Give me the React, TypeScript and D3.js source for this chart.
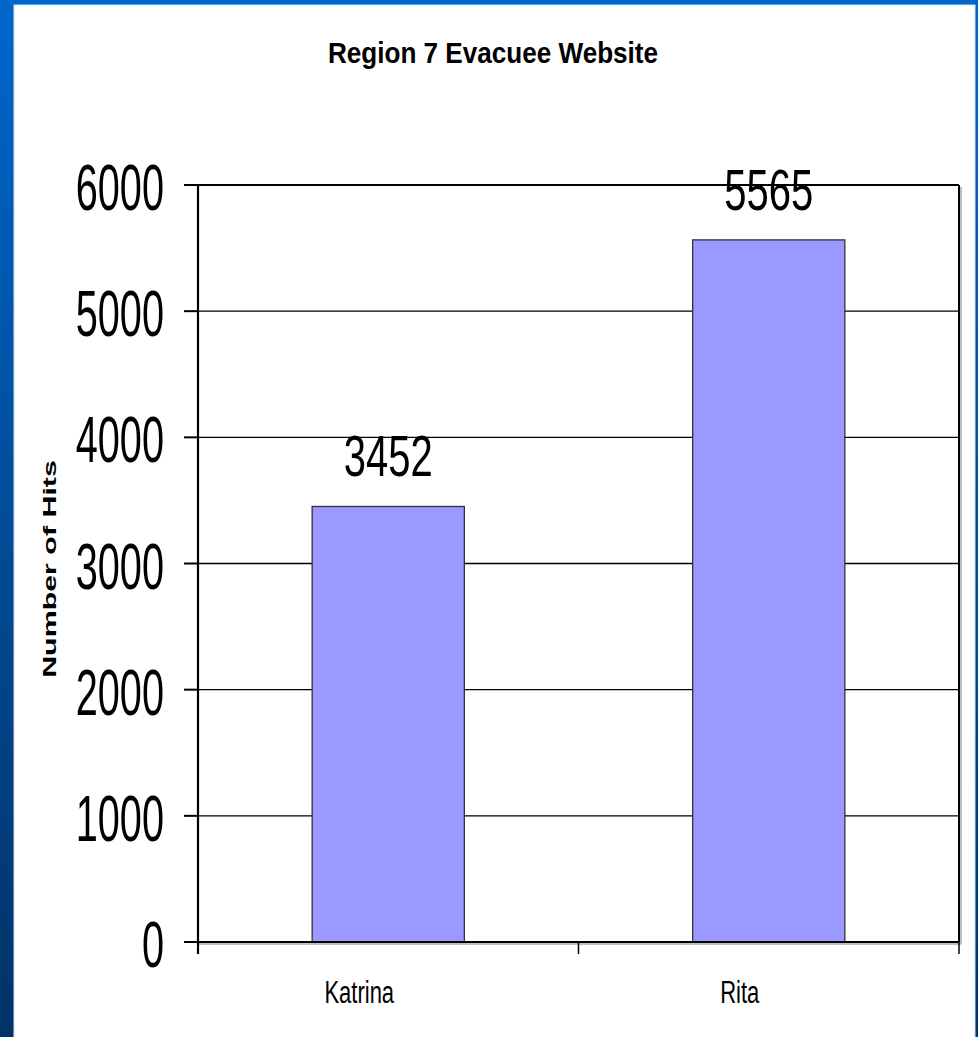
import { useEffect, useRef } from 'react';
import * as d3 from 'd3';

const categories = ['Katrina', 'Rita'];
const hits = [3452, 5565];
const yTicks = [0, 1000, 2000, 3000, 4000, 5000, 6000];
const title = 'Region 7 Evacuee Website';
const yTitle = 'Number of Hits';

const FONT = '"Liberation Sans", Arial, sans-serif';

export default function App() {
  const svgRef = useRef<SVGSVGElement>(null);

  useEffect(() => {
    if (!svgRef.current) return;
    const width = 978;
    const height = 1037;
    const plot = { left: 198, right: 959, top: 185, bottom: 942 };

    const svg = d3.select(svgRef.current);
    svg.selectAll('*').remove();
    svg.attr('width', width).attr('height', height);

    // slide background: blue gradient with a white panel
    const grad = svg.append('defs').append('linearGradient')
      .attr('id', 'bg').attr('x1', 0).attr('y1', 0).attr('x2', 0).attr('y2', 1);
    grad.append('stop').attr('offset', '0%').attr('stop-color', '#0066cc');
    grad.append('stop').attr('offset', '100%').attr('stop-color', '#003366');
    svg.append('rect').attr('width', width).attr('height', height).attr('fill', 'url(#bg)');
    svg.append('rect').attr('x', 14).attr('y', 5).attr('width', 961).attr('height', height)
      .attr('fill', '#ffffff').attr('stroke', '#cfe0f5').attr('stroke-width', 1);

    const x = d3.scaleBand()
      .domain(categories)
      .range([plot.left, plot.right])
      .paddingInner(0.6)
      .paddingOuter(0.3);
    const y = d3.scaleLinear().domain([0, 6000]).range([plot.bottom, plot.top]);
    const step = x.step();

    // gridlines
    svg.append('g').selectAll('line')
      .data(yTicks.filter(t => t > 0))
      .join('line')
      .attr('x1', plot.left).attr('x2', plot.right)
      .attr('y1', d => y(d)).attr('y2', d => y(d))
      .attr('stroke', '#000').attr('stroke-width', d => (d === 6000 ? 2.2 : 1.4));

    // right border with shadow
    svg.append('line').attr('x1', plot.right + 2).attr('x2', plot.right + 2)
      .attr('y1', plot.top + 2).attr('y2', plot.bottom + 2).attr('stroke', '#aaa').attr('stroke-width', 1.5);
    svg.append('line').attr('x1', plot.right).attr('x2', plot.right)
      .attr('y1', plot.top).attr('y2', plot.bottom).attr('stroke', '#000').attr('stroke-width', 2);

    // bars
    svg.append('g').selectAll('rect')
      .data(categories)
      .join('rect')
      .attr('x', d => x(d)!)
      .attr('y', (_, i) => y(hits[i]))
      .attr('width', x.bandwidth())
      .attr('height', (_, i) => y(0) - y(hits[i]))
      .attr('fill', '#9999ff')
      .attr('stroke', '#333')
      .attr('stroke-width', 1.3);

    // value labels
    svg.append('g').selectAll('text')
      .data(categories)
      .join('text')
      .attr('transform', (d, i) => `translate(${x(d)! + x.bandwidth() / 2},${y(hits[i]) - 30}) scale(0.69,1)`)
      .attr('text-anchor', 'middle')
      .attr('font-family', FONT)
      .attr('font-size', 58)
      .attr('fill', '#000')
      .text((_, i) => hits[i]);

    // x axis with shadow
    svg.append('line').attr('x1', plot.left).attr('x2', plot.right + 2)
      .attr('y1', plot.bottom + 2).attr('y2', plot.bottom + 2).attr('stroke', '#aaa').attr('stroke-width', 1.5);
    svg.append('line').attr('x1', plot.left).attr('x2', plot.right)
      .attr('y1', plot.bottom).attr('y2', plot.bottom).attr('stroke', '#000').attr('stroke-width', 2.2);

    // category boundary ticks
    svg.append('g').selectAll('line')
      .data(d3.range(categories.length + 1))
      .join('line')
      .attr('x1', i => plot.left + i * step).attr('x2', i => plot.left + i * step)
      .attr('y1', plot.bottom).attr('y2', plot.bottom + 12)
      .attr('stroke', '#000').attr('stroke-width', 1.5);

    // category labels (sit a little left of the bar centre in the original)
    svg.append('g').selectAll('text')
      .data(categories)
      .join('text')
      .attr('transform', d => `translate(${x(d)! + x.bandwidth() / 2 - 29},1003) scale(0.71,1)`)
      .attr('text-anchor', 'middle')
      .attr('font-family', FONT)
      .attr('font-size', 31)
      .attr('fill', '#000')
      .text(d => d);

    // y axis
    svg.append('line').attr('x1', plot.left).attr('x2', plot.left)
      .attr('y1', plot.top).attr('y2', plot.bottom + 12).attr('stroke', '#000').attr('stroke-width', 2.2);
    svg.append('g').selectAll('line')
      .data(yTicks)
      .join('line')
      .attr('x1', plot.left - 14).attr('x2', plot.left)
      .attr('y1', d => y(d)).attr('y2', d => y(d))
      .attr('stroke', '#000').attr('stroke-width', 2);
    svg.append('g').selectAll('text')
      .data(yTicks)
      .join('text')
      .attr('transform', d => `translate(164,${y(d) + 25}) scale(0.62,1)`)
      .attr('text-anchor', 'end')
      .attr('font-family', FONT)
      .attr('font-size', 64)
      .attr('fill', '#000')
      .text(d => d);

    // y axis title
    svg.append('text')
      .attr('transform', `translate(56,569) rotate(-90) scale(1.6,1)`)
      .attr('text-anchor', 'middle')
      .attr('font-family', FONT)
      .attr('font-size', 19)
      .attr('font-weight', 700)
      .attr('fill', '#000')
      .text(yTitle);

    // title
    svg.append('text')
      .attr('transform', `translate(493,63) scale(0.9,1)`)
      .attr('text-anchor', 'middle')
      .attr('font-family', FONT)
      .attr('font-size', 29)
      .attr('font-weight', 700)
      .attr('fill', '#000')
      .text(title);
  }, []);

  return (
    <div style={{ position: 'absolute', left: 0, top: 0 }}>
      <svg ref={svgRef} style={{ display: 'block' }} />
    </div>
  );
}
